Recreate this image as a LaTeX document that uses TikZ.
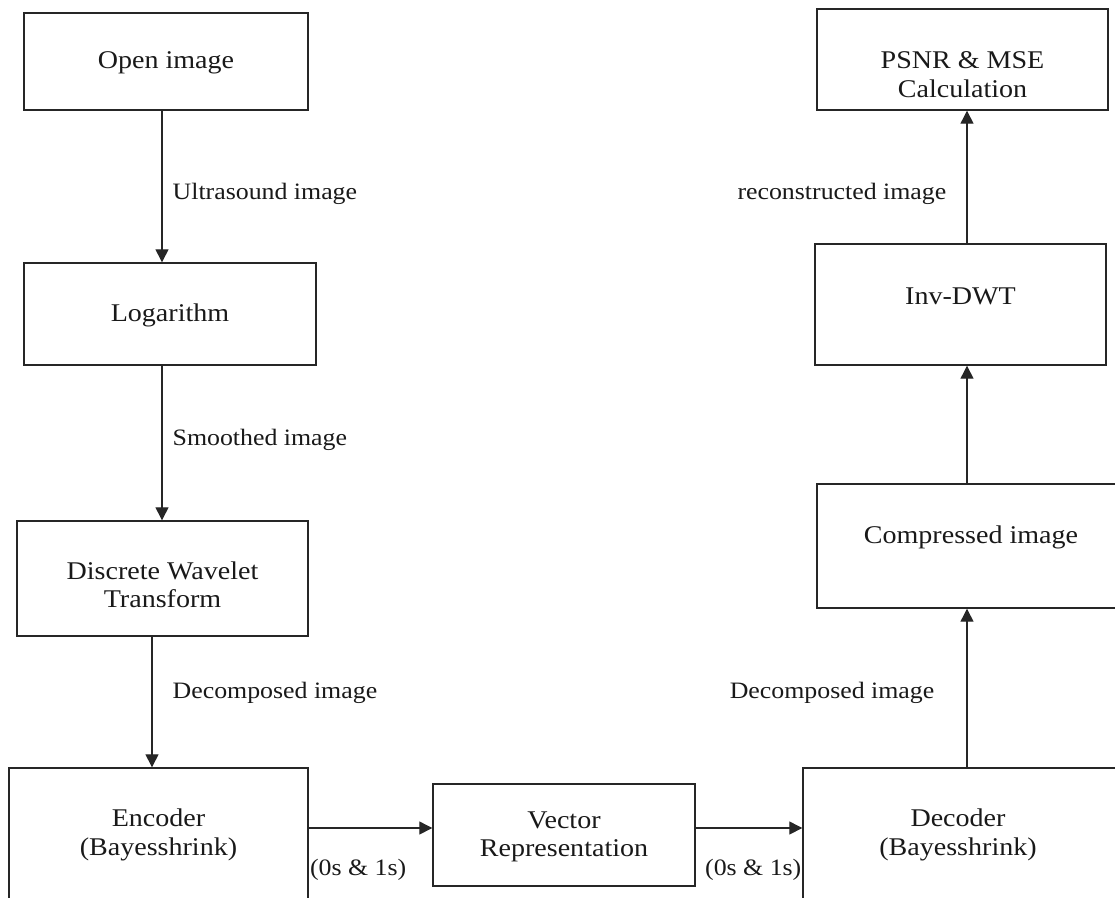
\documentclass[tikz,border=0pt]{standalone}
\usepackage{fontspec}
\setmainfont{Liberation Serif}[FakeStretch=1.1]
\usetikzlibrary{arrows.meta}
\begin{document}
\begin{tikzpicture}[x=1pt,y=-1pt,
  box/.style={draw=black!85,line width=1.4pt,rectangle,inner sep=0pt},
  boxtext/.style={font=\fontsize{25.5}{28.5}\selectfont,align=center,inner sep=0pt,text=black!90},
  lbl/.style={font=\fontsize{23.5}{26}\selectfont,inner sep=0pt,text=black!90},
  arr/.style={line width=1.3pt,draw=black!85,-{Triangle[length=13pt,width=13pt]}}]
\useasboundingbox (0,0) rectangle (1115,897);
% boxes
\node[box,minimum width=284pt,minimum height=97pt,label={[boxtext,yshift=-1.5pt]center:Open image}] (open) at (166,61.5) {};
\node[box,minimum width=292pt,minimum height=102pt,label={[boxtext,yshift=-1pt]center:Logarithm}] (log) at (170,314) {};
\node[box,minimum width=291pt,minimum height=115pt,label={[boxtext,yshift=-6.5pt]center:Discrete Wavelet\\Transform}] (dwt) at (162.5,578.5) {};
\node[box,minimum width=299pt,minimum height=137pt,label={[boxtext,yshift=1.5pt]center:Encoder\\(Bayesshrink)}] (enc) at (158.5,836.5) {};
\node[box,minimum width=262pt,minimum height=102pt,label={[boxtext,yshift=-2pt]center:Vector\\Representation}] (vec) at (564,835) {};
\node[box,minimum width=322pt,minimum height=137pt,label={[boxtext,xshift=-6pt,yshift=1.5pt]center:Decoder\\(Bayesshrink)}] (dec) at (964,836.5) {};
\node[box,minimum width=308pt,minimum height=124pt,label={[boxtext,yshift=9pt]center:Compressed image}] (comp) at (971,546) {};
\node[box,minimum width=291pt,minimum height=121pt,label={[boxtext,yshift=8.5pt]center:Inv-DWT}] (inv) at (960.5,304.5) {};
\node[box,minimum width=291pt,minimum height=101pt,label={[boxtext,yshift=-15pt]center:PSNR \& MSE\\Calculation}] (psnr) at (962.5,59.5) {};
% reference coordinates for connector lines
\coordinate (xa) at (162,0);
\coordinate (xb) at (152,0);
\coordinate (xr) at (967,0);
\coordinate (yh) at (0,828);
% connectors
\draw[arr] (open.south -| xa) -- node[lbl,anchor=west,xshift=10pt,pos=0.55]{Ultrasound image} (log.north -| xa);
\draw[arr] (log.south -| xa) -- node[lbl,anchor=west,xshift=10pt,pos=0.48]{Smoothed image} (dwt.north -| xa);
\draw[arr] (dwt.south -| xb) -- node[lbl,anchor=west,xshift=20pt,pos=0.43]{Decomposed image} (enc.north -| xb);
\draw[arr] (enc.east |- yh) -- node[lbl,pos=0.4,yshift=-42pt]{(0s \& 1s)} (vec.west |- yh);
\draw[arr] (vec.east |- yh) -- node[lbl,pos=0.54,yshift=-42pt]{(0s \& 1s)} (dec.west |- yh);
\draw[arr] (dec.north -| xr) -- node[lbl,anchor=east,xshift=-32pt,pos=0.47]{Decomposed image} (comp.south -| xr);
\draw[arr] (comp.north -| xr) -- (inv.south -| xr);
\draw[arr] (inv.north -| xr) -- node[lbl,anchor=east,xshift=-20pt,pos=0.37]{reconstructed image} (psnr.south -| xr);
\end{tikzpicture}
\end{document}
